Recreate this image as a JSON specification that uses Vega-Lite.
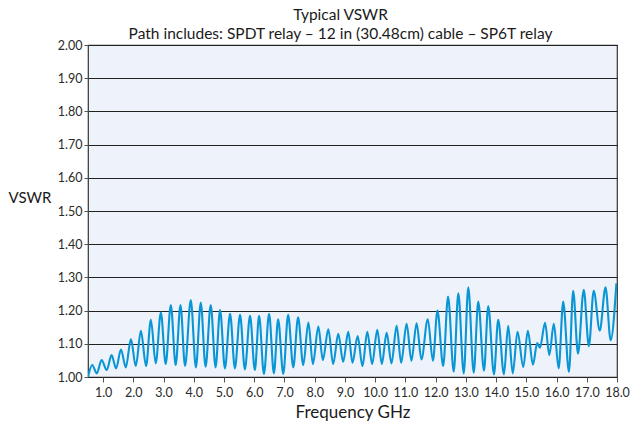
{
  "$schema": "https://vega.github.io/schema/vega-lite/v6.json",
  "width": 529,
  "height": 332,
  "autosize": {"type": "none"},
  "padding": {"left": 88, "top": 45, "right": 14, "bottom": 48},
  "background": "white",
  "config": {
    "font": "Lato",
    "view": {"fill": "#eef2fb", "stroke": "#333333", "strokeWidth": 1.2},
    "axis": {"labelFont": "Lato", "titleFont": "Lato", "labelColor": "#2a2a2a", "titleColor": "#1a1a1a", "tickColor": "#555555", "domain": false}
  },
  "title": {
    "text": ["Typical VSWR", "Path includes: SPDT relay – 12 in (30.48cm) cable – SP6T relay"],
    "font": "Lato",
    "fontSize": 15.5,
    "fontWeight": "normal",
    "color": "#1a1a1a",
    "lineHeight": 19,
    "anchor": "middle",
    "frame": "group",
    "dx": -12,
    "offset": -3
  },
  "data": {
    "values": [
      {"f": 0.5, "v": 1.0}, {"f": 0.64, "v": 1.036}, {"f": 0.79, "v": 1.011}, {"f": 0.95, "v": 1.051},
      {"f": 1.12, "v": 1.021}, {"f": 1.28, "v": 1.066}, {"f": 1.43, "v": 1.026}, {"f": 1.59, "v": 1.083},
      {"f": 1.75, "v": 1.029}, {"f": 1.92, "v": 1.114}, {"f": 2.08, "v": 1.033}, {"f": 2.25, "v": 1.139},
      {"f": 2.42, "v": 1.033}, {"f": 2.58, "v": 1.172}, {"f": 2.74, "v": 1.041}, {"f": 2.91, "v": 1.194},
      {"f": 3.07, "v": 1.039}, {"f": 3.24, "v": 1.217}, {"f": 3.40, "v": 1.036}, {"f": 3.56, "v": 1.217},
      {"f": 3.71, "v": 1.033}, {"f": 3.90, "v": 1.232}, {"f": 4.07, "v": 1.029}, {"f": 4.23, "v": 1.224},
      {"f": 4.39, "v": 1.031}, {"f": 4.56, "v": 1.217}, {"f": 4.72, "v": 1.029}, {"f": 4.87, "v": 1.202},
      {"f": 5.03, "v": 1.026}, {"f": 5.20, "v": 1.19}, {"f": 5.36, "v": 1.026}, {"f": 5.53, "v": 1.187},
      {"f": 5.69, "v": 1.023}, {"f": 5.86, "v": 1.184}, {"f": 6.02, "v": 1.021}, {"f": 6.16, "v": 1.184},
      {"f": 6.32, "v": 1.009}, {"f": 6.49, "v": 1.19}, {"f": 6.65, "v": 1.011}, {"f": 6.79, "v": 1.174},
      {"f": 6.96, "v": 1.009}, {"f": 7.12, "v": 1.187}, {"f": 7.29, "v": 1.029}, {"f": 7.45, "v": 1.18},
      {"f": 7.62, "v": 1.036}, {"f": 7.79, "v": 1.164}, {"f": 7.94, "v": 1.039}, {"f": 8.12, "v": 1.152},
      {"f": 8.27, "v": 1.051}, {"f": 8.45, "v": 1.144}, {"f": 8.61, "v": 1.039}, {"f": 8.78, "v": 1.13},
      {"f": 8.94, "v": 1.046}, {"f": 9.11, "v": 1.136}, {"f": 9.25, "v": 1.043}, {"f": 9.42, "v": 1.123},
      {"f": 9.58, "v": 1.033}, {"f": 9.74, "v": 1.136}, {"f": 9.90, "v": 1.039}, {"f": 10.07, "v": 1.142},
      {"f": 10.22, "v": 1.039}, {"f": 10.38, "v": 1.133}, {"f": 10.54, "v": 1.041}, {"f": 10.71, "v": 1.154},
      {"f": 10.86, "v": 1.043}, {"f": 11.04, "v": 1.16}, {"f": 11.20, "v": 1.049}, {"f": 11.37, "v": 1.162},
      {"f": 11.53, "v": 1.053}, {"f": 11.74, "v": 1.174}, {"f": 11.91, "v": 1.049}, {"f": 12.06, "v": 1.2},
      {"f": 12.25, "v": 1.033}, {"f": 12.41, "v": 1.242}, {"f": 12.60, "v": 1.016}, {"f": 12.75, "v": 1.252},
      {"f": 12.93, "v": 1.011}, {"f": 13.08, "v": 1.27}, {"f": 13.26, "v": 1.013}, {"f": 13.41, "v": 1.227},
      {"f": 13.60, "v": 1.019}, {"f": 13.74, "v": 1.214}, {"f": 13.93, "v": 1.008}, {"f": 14.07, "v": 1.172},
      {"f": 14.26, "v": 1.008}, {"f": 14.40, "v": 1.154}, {"f": 14.55, "v": 1.011}, {"f": 14.71, "v": 1.136},
      {"f": 14.90, "v": 1.03}, {"f": 15.05, "v": 1.139}, {"f": 15.22, "v": 1.037}, {"f": 15.36, "v": 1.102},
      {"f": 15.45, "v": 1.088}, {"f": 15.62, "v": 1.163}, {"f": 15.76, "v": 1.066}, {"f": 15.91, "v": 1.16},
      {"f": 16.07, "v": 1.026}, {"f": 16.22, "v": 1.227}, {"f": 16.41, "v": 1.015}, {"f": 16.55, "v": 1.26},
      {"f": 16.71, "v": 1.07}, {"f": 16.90, "v": 1.263}, {"f": 17.07, "v": 1.093}, {"f": 17.23, "v": 1.26},
      {"f": 17.43, "v": 1.14}, {"f": 17.62, "v": 1.27}, {"f": 17.79, "v": 1.111}, {"f": 17.98, "v": 1.282}
    ]
  },
  "mark": {"type": "line", "interpolate": "monotone", "color": "#0a96d4", "strokeWidth": 2.1, "clip": true},
  "encoding": {
    "x": {
      "field": "f", "type": "quantitative",
      "scale": {"domain": [0.5, 18], "nice": false, "zero": false},
      "axis": {
        "values": [1,2,3,4,5,6,7,8,9,10,11,12,13,14,15,16,17,18],
        "format": ".1f", "grid": false, "labelFontSize": 12.5, "tickSize": 5,
        "labelOverlap": false, "labelBound": false, "labelFlush": false, "labelPadding": 4,
        "title": "Frequency GHz", "titleFontSize": 17, "titleFontWeight": "normal", "titlePadding": 6
      }
    },
    "y": {
      "field": "v", "type": "quantitative",
      "scale": {"domain": [1, 2], "nice": false, "zero": false},
      "axis": {
        "values": [1.0,1.1,1.2,1.3,1.4,1.5,1.6,1.7,1.8,1.9,2.0],
        "format": ".2f", "grid": true, "gridColor": "#222222", "gridOpacity": 1, "gridWidth": 1,
        "labelFontSize": 12.5, "tickSize": 4, "labelPadding": 2, "labelOverlap": false,
        "title": "VSWR", "titleFontSize": 15, "titleFontWeight": "normal", "titleAngle": 0,
        "titleAlign": "left", "titleBaseline": "middle", "titleX": -80, "titleY": 152
      }
    }
  }
}
